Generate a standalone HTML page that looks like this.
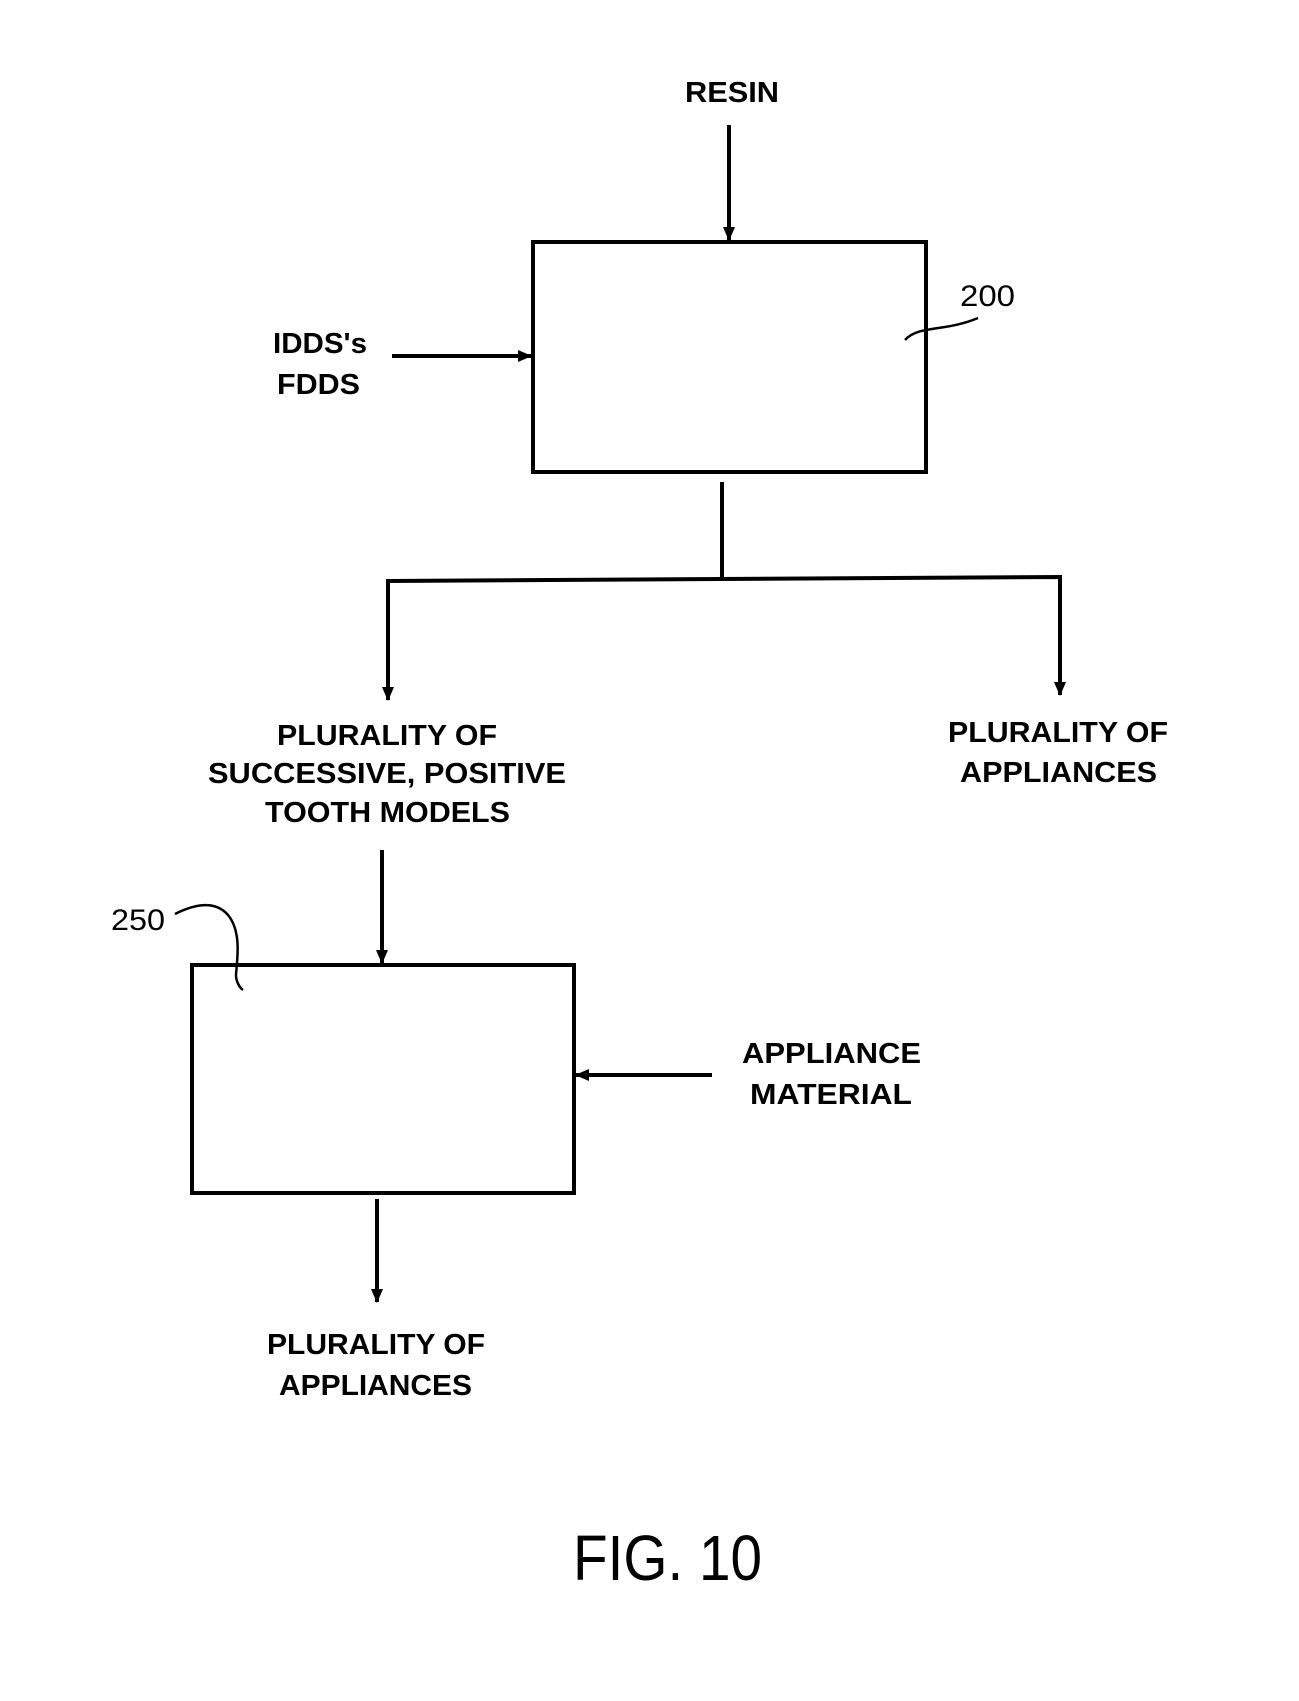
<!DOCTYPE html>
<html><head><meta charset="utf-8"><style>
html,body{margin:0;padding:0;background:#fff;}
svg{display:block;}
text{font-family:"Liberation Sans",Arial,sans-serif;fill:#000;}
</style></head><body>
<svg width="1299" height="1701" viewBox="0 0 1299 1701" xmlns="http://www.w3.org/2000/svg">
<defs>
<marker id="a" markerWidth="14" markerHeight="14" refX="13" refY="7" orient="auto" markerUnits="userSpaceOnUse">
<path d="M0,1 L14,7 L0,13 Z" fill="#000"/>
</marker>
</defs>
<g stroke="#000" stroke-width="4" fill="none">
<rect x="533" y="242" width="393" height="230"/>
<rect x="192" y="965" width="382" height="228"/>
<line x1="729" y1="125" x2="729" y2="240" marker-end="url(#a)"/>
<line x1="392" y1="356" x2="531" y2="356" marker-end="url(#a)"/>
<line x1="722" y1="482" x2="722" y2="579"/>
<polyline points="388,700 388,581 1060,577 1060,695"/>
<line x1="388" y1="600" x2="388" y2="700" marker-end="url(#a)"/>
<line x1="1060" y1="600" x2="1060" y2="695" marker-end="url(#a)"/>
<line x1="382" y1="850" x2="382" y2="963" marker-end="url(#a)"/>
<line x1="712" y1="1075" x2="576" y2="1075" marker-end="url(#a)"/>
<line x1="377" y1="1199" x2="377" y2="1302" marker-end="url(#a)"/>
</g>
<g stroke="#000" stroke-width="2.5" fill="none">
<path d="M905,340 C918,325 945,332 978,318"/>
<path d="M175,914 C195,904 215,900 228,915 C242,932 237,960 236,975 C236,982 240,988 243,990"/>
</g>
<g style="font-weight:bold;font-size:29px">
<text x="685" y="102" textLength="94" lengthAdjust="spacingAndGlyphs">RESIN</text>
<text x="273" y="353" textLength="94" lengthAdjust="spacingAndGlyphs">IDDS's</text>
<text x="277" y="394" textLength="83" lengthAdjust="spacingAndGlyphs">FDDS</text>
<text x="277" y="745" textLength="220" lengthAdjust="spacingAndGlyphs">PLURALITY OF</text>
<text x="208" y="783" textLength="358" lengthAdjust="spacingAndGlyphs">SUCCESSIVE, POSITIVE</text>
<text x="265" y="822" textLength="245" lengthAdjust="spacingAndGlyphs">TOOTH MODELS</text>
<text x="948" y="742" textLength="220" lengthAdjust="spacingAndGlyphs">PLURALITY OF</text>
<text x="960" y="782" textLength="197" lengthAdjust="spacingAndGlyphs">APPLIANCES</text>
<text x="742" y="1063" textLength="179" lengthAdjust="spacingAndGlyphs">APPLIANCE</text>
<text x="750" y="1104" textLength="162" lengthAdjust="spacingAndGlyphs">MATERIAL</text>
<text x="267" y="1354" textLength="218" lengthAdjust="spacingAndGlyphs">PLURALITY OF</text>
<text x="279" y="1395" textLength="193" lengthAdjust="spacingAndGlyphs">APPLIANCES</text>
</g>
<text x="960" y="306" textLength="55" lengthAdjust="spacingAndGlyphs" style="font-size:30px">200</text>
<text x="111" y="930" textLength="54" lengthAdjust="spacingAndGlyphs" style="font-size:30px">250</text>
<text x="573" y="1580" textLength="189" lengthAdjust="spacingAndGlyphs" style="font-size:64px">FIG. 10</text>
</svg>
</body></html>
